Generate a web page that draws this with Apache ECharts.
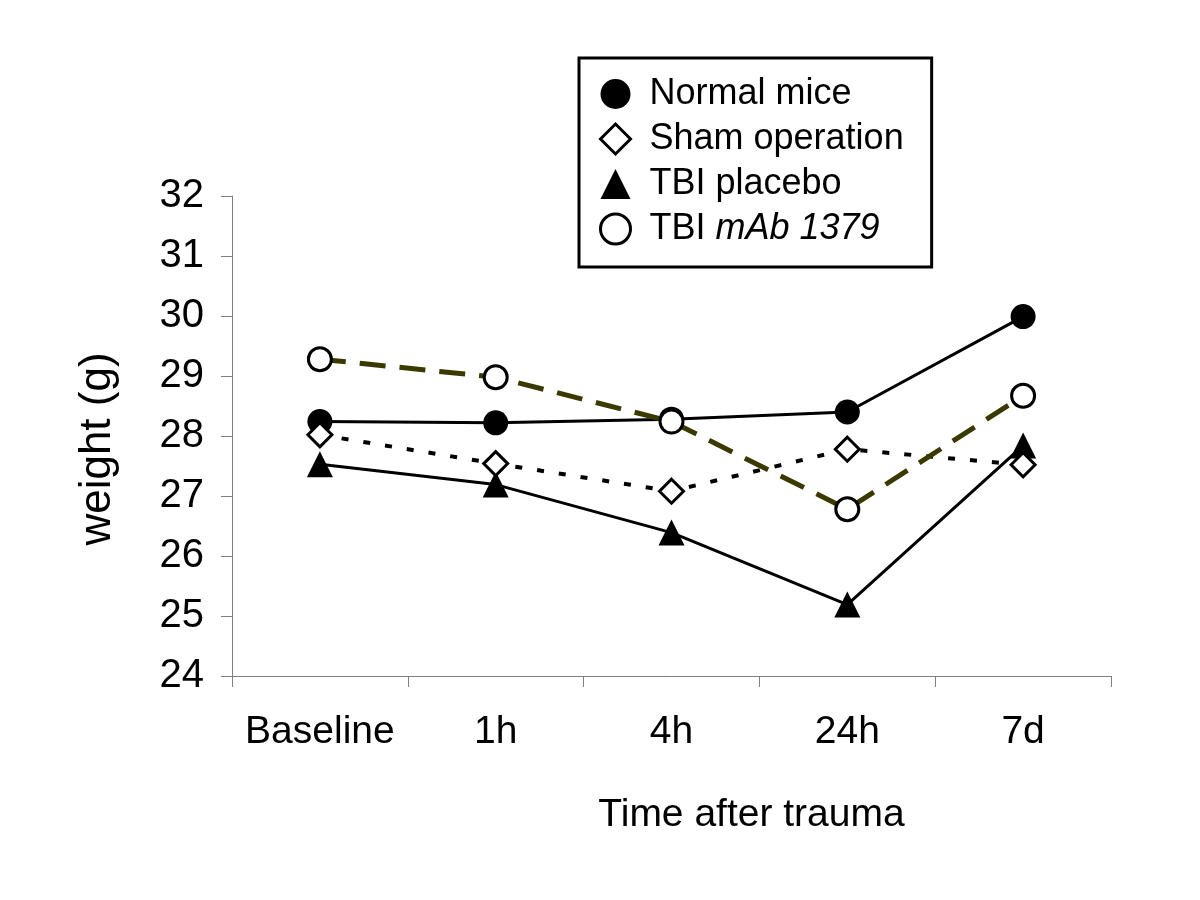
<!DOCTYPE html>
<html>
<head>
<meta charset="utf-8">
<script src="https://cdn.jsdelivr.net/npm/echarts@6/dist/echarts.min.js"></script>
<style>html,body{margin:0;padding:0;background:#fff}#c{width:1200px;height:900px}</style>
</head>
<body>
<div id="c"></div>
<script>
var categories = ['Baseline', '1h', '4h', '24h', '7d'];
var normalMice = [28.24, 28.22, 28.28, 28.40, 29.99];
var shamOperation = [28.02, 27.54, 27.08, 27.78, 27.52];
var tbiPlacebo = [27.53, 27.19, 26.39, 25.19, 27.84];
var tbiMab = [29.28, 28.98, 28.24, 26.78, 28.67];
var yTicks = [24, 25, 26, 27, 28, 29, 30, 31, 32];
var seriesNames = ['Normal mice', 'Sham operation', 'TBI placebo', 'TBI mAb 1379'];

var FONT = "'Liberation Sans', Arial, sans-serif";
var chart = echarts.init(document.getElementById('c'), null, {renderer: 'canvas'});
var hollow = {color: '#ffffff', borderColor: '#000000', borderWidth: 3};
var solid = {color: '#000000', borderWidth: 0};

var option = {
  animation: false,
  backgroundColor: '#ffffff',
  grid: {left: 232, right: 89, top: 196, bottom: 224, containLabel: false},
  legend: {
    left: 579, top: 58, orient: 'vertical',
    borderColor: '#000', borderWidth: 3, backgroundColor: '#fff',
    padding: [16, 28, 18, 20],
    itemWidth: 30, itemHeight: 30, itemGap: 5,
    textStyle: {fontFamily: FONT, fontSize: 36, color: '#000', lineHeight: 40, padding: [0, 0, 0, 14],
      rich: {
        n: {fontFamily: FONT, fontSize: 36, color: '#000'},
        i: {fontFamily: FONT, fontSize: 36, color: '#000', fontStyle: 'italic'}
      }
    },
    formatter: function (name) {
      if (name === seriesNames[3]) return '{n|TBI }{i|mAb 1379}';
      return name;
    },
    data: [
      {name: seriesNames[0], icon: 'circle', itemStyle: solid},
      {name: seriesNames[1], icon: 'diamond', itemStyle: hollow},
      {name: seriesNames[2], icon: 'triangle', itemStyle: solid},
      {name: seriesNames[3], icon: 'circle', itemStyle: hollow}
    ]
  },
  xAxis: {
    type: 'category', data: categories, boundaryGap: true,
    axisLine: {lineStyle: {color: '#808080', width: 1}},
    axisTick: {show: true, interval: 0, length: 11, alignWithLabel: false, lineStyle: {color: '#808080'}},
    axisLabel: {fontFamily: FONT, fontSize: 39, color: '#000', margin: 37, interval: 0},
    name: 'Time after trauma', nameLocation: 'middle', nameGap: 120,
    nameTextStyle: {fontFamily: FONT, fontSize: 39, color: '#000', padding: [0, 0, 0, 160]},
    splitLine: {show: false}
  },
  yAxis: {
    type: 'value', min: yTicks[0], max: yTicks[yTicks.length - 1], interval: 1,
    axisLine: {show: true, lineStyle: {color: '#808080', width: 1}},
    axisTick: {show: true, length: 11, lineStyle: {color: '#808080'}},
    axisLabel: {fontFamily: FONT, fontSize: 40, color: '#000', margin: 28},
    splitLine: {show: false},
    name: 'weight (g)', nameLocation: 'middle', nameGap: 112,
    nameTextStyle: {fontFamily: FONT, fontSize: 44, color: '#000', padding: [0, 26, 0, 0]}
  },
  series: [
    {
      name: seriesNames[0], type: 'line', data: normalMice, z: 2,
      symbol: 'circle', symbolSize: 25,
      itemStyle: {color: '#000'},
      lineStyle: {color: '#000', width: 3}
    },
    {
      name: seriesNames[2], type: 'line', data: tbiPlacebo, z: 3,
      symbol: 'triangle', symbolSize: 26,
      itemStyle: {color: '#000'},
      lineStyle: {color: '#000', width: 3}
    },
    {
      name: seriesNames[1], type: 'line', data: shamOperation, z: 4,
      symbol: 'diamond', symbolSize: 24,
      itemStyle: {color: '#fff', borderColor: '#000', borderWidth: 3},
      lineStyle: {color: '#000', width: 4, type: [7, 15]}
    },
    {
      name: seriesNames[3], type: 'line', data: tbiMab, z: 5,
      symbol: 'circle', symbolSize: 23,
      itemStyle: {color: '#fff', borderColor: '#000', borderWidth: 3},
      lineStyle: {color: '#3a3a00', width: 5, type: [26, 14]}
    }
  ]
};
chart.setOption(option);
</script>
</body>
</html>
